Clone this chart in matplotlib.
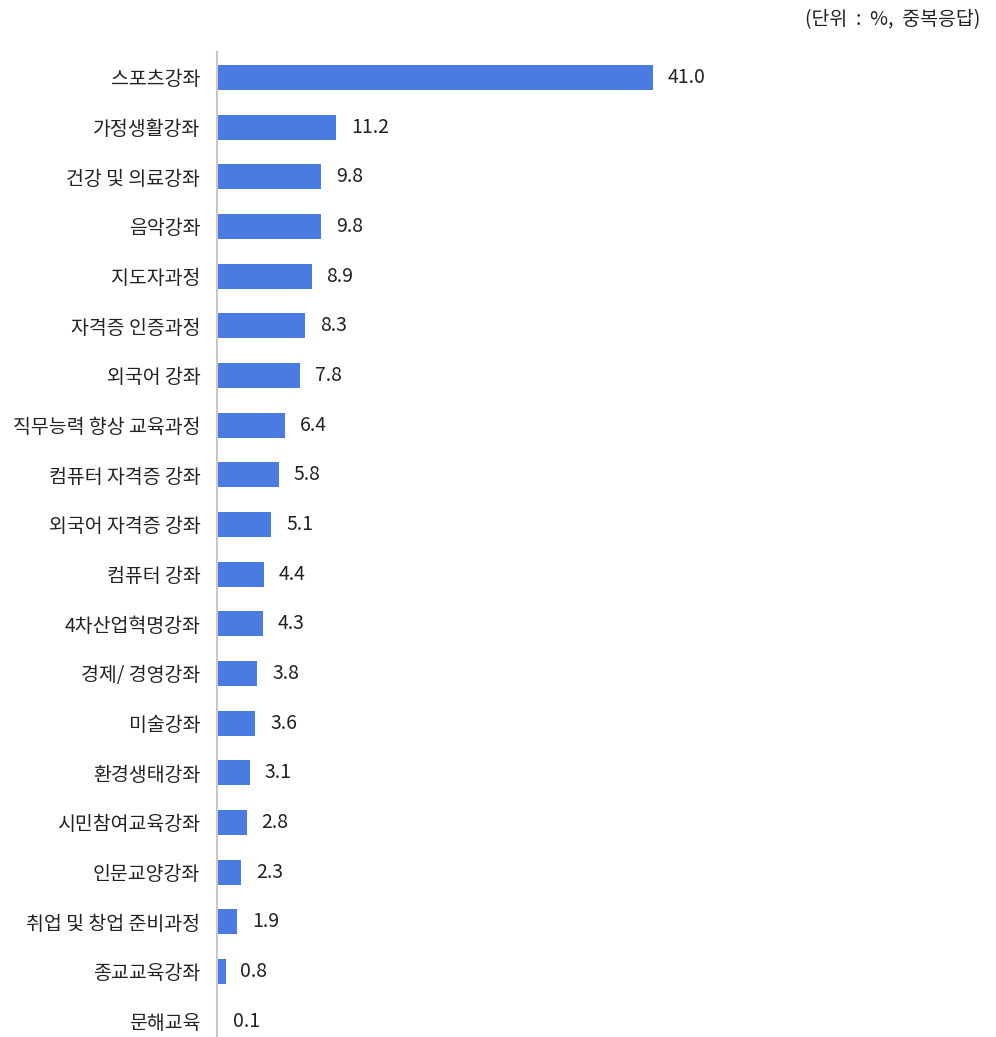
import matplotlib.pyplot as plt

plt.rcParams['font.family'] = ['Noto Sans CJK KR', 'DejaVu Sans']

categories = ['스포츠강좌', '가정생활강좌', '건강 및 의료강좌', '음악강좌', '지도자과정',
              '자격증 인증과정', '외국어 강좌', '직무능력 향상 교육과정', '컴퓨터 자격증 강좌',
              '외국어 자격증 강좌', '컴퓨터 강좌', '4차산업혁명강좌', '경제/ 경영강좌', '미술강좌',
              '환경생태강좌', '시민참여교육강좌', '인문교양강좌', '취업 및 창업 준비과정',
              '종교교육강좌', '문해교육']
values = [41.0, 11.2, 9.8, 9.8, 8.9, 8.3, 7.8, 6.4, 5.8, 5.1, 4.4, 4.3, 3.8, 3.6,
          3.1, 2.8, 2.3, 1.9, 0.8, 0.1]

W, H = 996, 1037
fig = plt.figure(figsize=(W / 100, H / 100), dpi=100)
ax = fig.add_axes([217 / W, 0, 1 - 217 / W, 1 - 52 / H])

pos = list(range(len(categories)))
ax.barh(pos, values, height=0.5, color='#4a7be0')
ax.set_xlim(0, (W - 217) / 10.634)
ax.set_ylim(19.32, -0.513)

for i, v in enumerate(values):
    ax.text(v + 1.4, i, f'{v:.1f}', va='center', ha='left', fontsize=14, color='#222222')

ax.set_yticks(pos)
ax.set_yticklabels(categories, fontsize=14, color='#222222')
ax.tick_params(axis='y', length=0, pad=12)
ax.set_xticks([])
for s in ['top', 'right', 'bottom']:
    ax.spines[s].set_visible(False)
ax.spines['left'].set_color('#c8c8c8')
ax.spines['left'].set_linewidth(1.5)

fig.text(980 / W, 1 - 20 / H, '(단위  :  %,  중복응답)', ha='right', va='center',
         fontsize=14, color='#222222')

fig.savefig('out.png', dpi=100)
